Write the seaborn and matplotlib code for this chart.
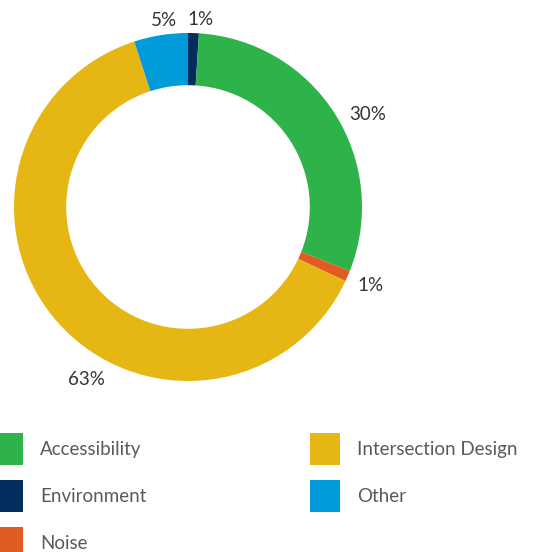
import numpy as np
import seaborn as sns
import matplotlib.pyplot as plt
from matplotlib.patches import Patch

# data, in the order the slices go clockwise from 12 o'clock
categories = ["Environment", "Accessibility", "Noise", "Intersection Design", "Other"]
shares = [1, 30, 1, 63, 5]
pct_labels = ["1%", "30%", "1%", "63%", "5%"]
legend_order = ["Accessibility", "Environment", "Noise", "Intersection Design", "Other"]

colors = {
    "Accessibility": "#2EB34B",
    "Environment": "#022D5C",
    "Noise": "#E05C23",
    "Intersection Design": "#E6B714",
    "Other": "#009BD8",
}

sns.set_style("white")
plt.rcParams["font.family"] = ["Lato", "DejaVu Sans"]

W, H = 542, 552
fig = plt.figure(figsize=(W / 100, H / 100), dpi=100)

# donut axes, centre (188, 207) px, radius 174 px
cx, cy, R = 188, 207, 174
ax = fig.add_axes([(cx - R) / W, (H - cy - R) / H, 2 * R / W, 2 * R / H])
wedges, _ = ax.pie(shares, colors=[colors[c] for c in categories],
                   startangle=90, counterclock=False, radius=1,
                   wedgeprops=dict(width=0.30, edgecolor="none"))
ax.set_aspect("equal")
ax.set_xlim(-1, 1)
ax.set_ylim(-1, 1)
ax.axis("off")

# percentage labels just outside the ring (angle nudge in degrees, radius)
label_nudge = {0: (-2, 1.08), 1: (-5, 1.16), 2: (0, 1.14), 3: (18, 1.15), 4: (-1.5, 1.08)}
for i, (w, lab) in enumerate(zip(wedges, pct_labels)):
    shift, r = label_nudge[i]
    mid = np.deg2rad((w.theta1 + w.theta2) / 2 + shift)
    ax.text(r * np.cos(mid), r * np.sin(mid), lab, ha="center", va="center",
            fontsize=13.5, color="#333333", clip_on=False)

handles = [Patch(facecolor=colors[c], edgecolor="none") for c in legend_order]
leg = fig.legend(handles, legend_order, loc="upper left",
                 bbox_to_anchor=(-7 / W, 1 - 433 / H), ncol=2, frameon=False,
                 prop=dict(size=13.5),
                 handlelength=1.6, handleheight=2.25,
                 handletextpad=0.9, columnspacing=8.75, labelspacing=0.8,
                 borderpad=0, borderaxespad=0)
for t in leg.get_texts():
    t.set_color("#5a5a5a")

fig.savefig("out.png", dpi=100)
